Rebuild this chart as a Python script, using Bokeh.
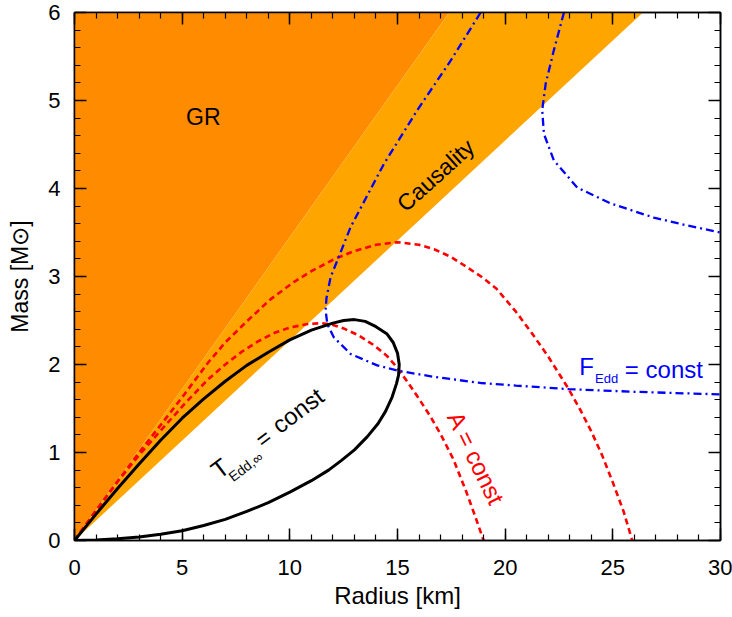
import math
from bokeh.plotting import figure
from bokeh.models import LinearAxis, Range1d, SingleIntervalTicker, CustomLabelingPolicy
from bokeh.embed import file_html
from bokeh.resources import INLINE
from bokeh.core.properties import value

FONT = "Liberation Sans"

# ---- data ----
gr_R = [0, 0, 17.4]
gr_M = [0, 6, 6]
causal_R = [0, 17.4, 26.4]
causal_M = [0, 6, 6]

tedd_R = [0, 1, 2, 3, 4, 5, 6, 7, 8, 9, 10, 11, 12, 12.5, 13, 13.5, 14.0, 14.5, 14.8, 15.0, 15.08,
          15.05, 14.95, 14.75, 14.45, 14.1, 13.6, 13.0, 12.4, 11.8, 11.0, 10.0, 9.0, 8.0, 7.0, 6.0,
          5.0, 4.0, 3.0, 2.0, 1.0, 0]
tedd_M = [0, 0.30, 0.59, 0.87, 1.14, 1.39, 1.61, 1.81, 1.99, 2.14, 2.28, 2.39, 2.47, 2.50, 2.51,
          2.49, 2.43, 2.35, 2.25, 2.13, 2.0, 1.88, 1.78, 1.63, 1.47, 1.33, 1.18, 1.03, 0.91, 0.80,
          0.68, 0.55, 0.43, 0.33, 0.24, 0.17, 0.11, 0.07, 0.04, 0.02, 0.005, 0]

a1_R = [0, 1, 2, 3, 3.9, 5.1, 6.2, 7.0, 7.74, 8.5, 9.29, 10.0, 10.84, 11.5, 12.0, 12.5, 13.2, 13.9,
        14.5, 15.0, 15.5, 16.0, 16.5, 17.0, 17.6, 18.2, 18.6, 19.0]
a1_M = [0, 0.34, 0.67, 0.97, 1.22, 1.55, 1.83, 2.0, 2.14, 2.26, 2.36, 2.42, 2.46, 2.47, 2.45, 2.41,
        2.33, 2.22, 2.10, 1.96, 1.79, 1.61, 1.42, 1.21, 0.92, 0.55, 0.28, 0.0]

a2_R = [0, 1, 2, 3, 3.9, 5.1, 6.2, 7.0, 8.0, 9.1, 10.2, 11.0, 12.0, 13.0, 14.0, 15.0, 16.0, 16.7,
        17.5, 18.2, 19.0, 19.6, 20.5, 21.2, 22.0, 22.9, 23.5, 24.0, 24.5, 25.0, 25.5, 25.9]
a2_M = [0, 0.34, 0.67, 1.0, 1.28, 1.66, 2.02, 2.25, 2.49, 2.74, 2.94, 3.06, 3.19, 3.29, 3.36, 3.39,
        3.36, 3.31, 3.22, 3.11, 2.98, 2.86, 2.60, 2.37, 2.09, 1.74, 1.48, 1.24, 0.97, 0.66, 0.33, 0.0]

f1_R = [18.86, 17.46, 15.92, 14.37, 12.82, 12.3, 11.89, 11.7, 11.66, 11.74, 12.04, 12.82, 14.06,
        15.0, 16.69, 18.86, 20.5, 22.96, 26.0, 30.0]
f1_M = [6.0, 5.45, 4.89, 4.28, 3.56, 3.24, 2.99, 2.75, 2.62, 2.46, 2.31, 2.12, 1.99,
        1.93, 1.86, 1.79, 1.76, 1.72, 1.69, 1.66]

f2_R = [22.73, 22.26, 21.88, 21.72, 21.8, 22.26, 23.35, 24.9, 26.9, 28.46, 30.0]
f2_M = [6.0, 5.57, 5.19, 4.89, 4.62, 4.32, 4.01, 3.83, 3.67, 3.58, 3.5]

x_ticks_interval = 5
y_ticks_interval = 1

# ---- figure ----
p = figure(width=732, height=617, x_range=Range1d(0, 30), y_range=Range1d(0, 6),
           output_backend="svg", toolbar_location=None,
           min_border_left=74, min_border_right=12, min_border_top=12, min_border_bottom=77)
p.xgrid.visible = False
p.ygrid.visible = False
p.outline_line_color = "black"
p.outline_line_width = 1.5
p.background_fill_color = "white"

def style_axis(ax, labels=True):
    ax.major_tick_in = 12
    ax.major_tick_out = 0
    ax.minor_tick_in = 6
    ax.minor_tick_out = 0
    ax.axis_line_color = "black"
    ax.axis_line_width = 1.5
    ax.major_tick_line_width = 1.5
    ax.minor_tick_line_width = 1.2
    ax.major_tick_line_color = "black"
    ax.minor_tick_line_color = "black"
    if labels:
        ax.major_label_text_font = FONT
        ax.major_label_text_font_size = "22px"
        ax.major_label_text_color = "black"
        ax.axis_label_text_font = FONT
        ax.axis_label_text_font_size = "24px"
        ax.axis_label_text_font_style = "normal"
        ax.axis_label_text_color = "black"
    else:
        ax.major_label_text_font_size = "0px"
        ax.major_label_standoff = 0
        ax.major_label_policy = CustomLabelingPolicy(
            code="for (const i of Array.from(indices)) { indices.unset(i) }; return indices")

p.xaxis.ticker = SingleIntervalTicker(interval=x_ticks_interval, num_minor_ticks=5)
p.yaxis.ticker = SingleIntervalTicker(interval=y_ticks_interval, num_minor_ticks=5)
style_axis(p.xaxis[0])
style_axis(p.yaxis[0])
p.xaxis.major_label_standoff = 19
p.yaxis.major_label_standoff = 14
p.xaxis.axis_label = "Radius [km]"
p.xaxis.axis_label_standoff = 4
p.yaxis.axis_label = "Mass [M⊙]"
p.yaxis.axis_label_text_font_size = "23px"
p.yaxis.axis_label_standoff = 12

top = LinearAxis(ticker=SingleIntervalTicker(interval=x_ticks_interval, num_minor_ticks=5))
right = LinearAxis(ticker=SingleIntervalTicker(interval=y_ticks_interval, num_minor_ticks=5))
style_axis(top, labels=False)
style_axis(right, labels=False)
p.add_layout(top, "above")
p.add_layout(right, "right")

# regions
p.patch(gr_R, gr_M, fill_color="#FF8C00", line_color=None)
p.patch(causal_R, causal_M, fill_color="#FFA500", line_color=None)

# curves
p.line(a1_R, a1_M, line_color="#FF0000", line_width=2.6, line_dash="6 4")
p.line(a2_R, a2_M, line_color="#FF0000", line_width=2.6, line_dash="6 4")
p.line(f1_R, f1_M, line_color="#0000FF", line_width=2.3, line_dash="8 4 2 4")
p.line(f2_R, f2_M, line_color="#0000FF", line_width=2.3, line_dash="8 4 2 4")
p.line(tedd_R, tedd_M, line_color="black", line_width=3)

def txt(x, y, t, size, color="black", angle=0.0):
    p.text(x=[x], y=[y], text=[t], angle=math.radians(angle), text_font=value(FONT),
           text_font_size=size, text_color=color, text_align="center", text_baseline="middle")

txt(5.98, 4.81, "GR", "23px")
txt(16.77, 4.15, "Causality", "23px", angle=42)
txt(18.65, 0.93, "A = const", "24px", color="#FF0000", angle=-64)
# T_Edd,inf = const
txt(6.75, 0.82, "T", "25px", angle=37)
txt(7.95, 0.84, "Edd,∞", "14px", angle=37)
txt(8.78, 1.16, "=", "23px", angle=37)
txt(10.37, 1.477, "const", "24px", angle=37)
# F_Edd = const
txt(23.78, 1.98, "F", "24px", color="#0000FF")
txt(24.71, 1.845, "Edd", "13px", color="#0000FF")
txt(27.37, 1.94, "= const", "24px", color="#0000FF")

open("out.html", "w").write(file_html(p, INLINE))
